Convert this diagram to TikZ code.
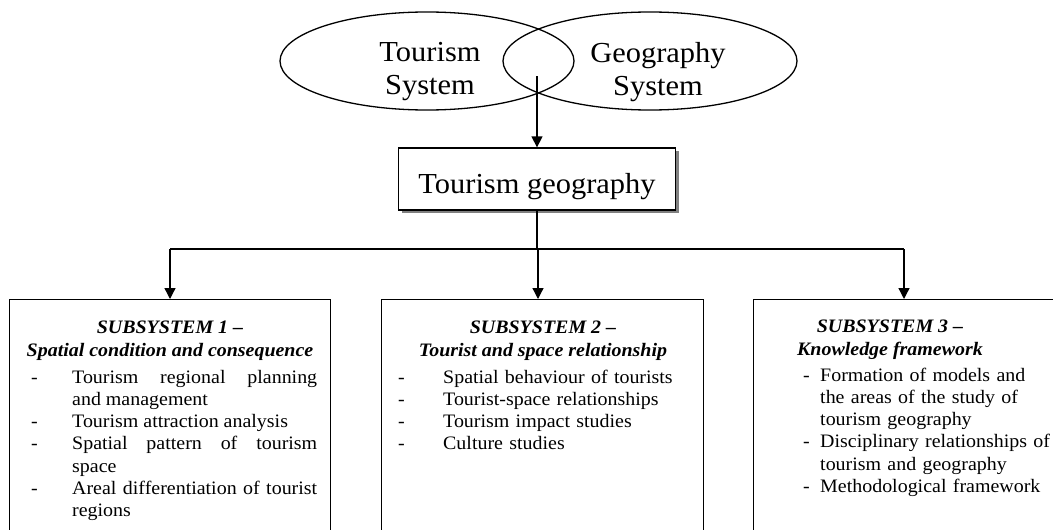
\documentclass[tikz,border=0pt]{standalone}
\usepackage{fontspec}
\setmainfont[FakeStretch=1.05]{Liberation Serif}
\usetikzlibrary{shapes.geometric,arrows.meta,shadows}

% one dashed list entry with a hanging indent
\newlength\dashgap
\newcommand\dashitem[1]{\noindent\hangindent=\dashgap\hangafter=1\makebox[\dashgap][l]{-}#1\par}

\begin{document}
\begin{tikzpicture}[x=1pt,y=-1pt,
  line/.style={line width=1.3pt},
  arrow/.style={line, -{Triangle[width=11pt,length=11pt]}},
  sysellipse/.style={ellipse, draw, line width=1.3pt, minimum width=294pt, minimum height=98pt, inner sep=0pt},
  bigtext/.style={font=\fontsize{29}{33}\selectfont, align=center, inner sep=0pt, anchor=north},
  mainbox/.style={draw, line width=1.3pt, fill=white, minimum width=277pt, minimum height=62pt,
    font=\fontsize{29}{33}\selectfont, text height=28pt, text depth=0pt, inner sep=0pt,
    drop shadow={shadow xshift=3pt, shadow yshift=-3pt, fill=black!50, opacity=1}},
  subbox/.style={draw, line width=1.3pt, rectangle, anchor=north west, inner sep=0pt, minimum height=260pt},
  subtitle/.style={font=\fontsize{19}{22.3}\selectfont\bfseries\itshape, align=center, inner sep=0pt, anchor=north},
  sublist/.style={font=\fontsize{19}{22.3}\selectfont, inner sep=0pt, anchor=base west}
]
\path[use as bounding box] (0,0) rectangle (1053,530);
\clip (0,0) rectangle (1053,530);

% the two overlapping systems
\node[sysellipse] (tsys) at (427,61) {};
\node[sysellipse] (gsys) at (650,61) {};
\node[bigtext] (tsyslabel) at (430,42) {Tourism\\System};
\node[bigtext] (gsyslabel) at (658,42) {Geography\\System};
\coordinate (overlap) at (537,76);

% central box
\node[mainbox] (tg) at (537,179) {Tourism geography};
\draw[arrow] (overlap) -- (overlap |- tg.north);

% distribution bar
\coordinate (bl) at (170,249);
\coordinate (bm) at (538,249);
\coordinate (br) at (904,249);
\draw[line] (tg.south) -- (tg.south |- bm);
\draw[line] (bl) -- (br);

% subsystem boxes (open at the lower edge)
\node[subbox, minimum width=321pt] (s1) at (9,299) {};
\node[subbox, minimum width=322pt] (s2) at (381,299) {};
\node[subbox, minimum width=330pt] (s3) at (753,299) {};
\draw[arrow] (bl) -- (bl |- s1.north);
\draw[arrow] (bm) -- (bm |- s2.north);
\draw[arrow] (br) -- (br |- s3.north);

% subsystem 1
\node[subtitle] (s1title) at (170,321) {SUBSYSTEM 1 --\\Spatial condition and consequence};
\node[sublist, text width=286pt, align=justify] (s1list) at (31,383) {\setlength\dashgap{41pt}%
  \dashitem{Tourism regional planning\linebreak and management}
  \dashitem{Tourism attraction analysis}
  \dashitem{Spatial pattern of tourism\linebreak space}
  \dashitem{Areal differentiation of tourist\linebreak regions}};

% subsystem 2
\node[subtitle] (s2title) at (543,321) {SUBSYSTEM 2 --\\Tourist and space relationship};
\node[sublist, text width=300pt, align=left] (s2list) at (398,383) {\setlength\dashgap{45pt}%
  \dashitem{Spatial behaviour of tourists}
  \dashitem{Tourist-space relationships}
  \dashitem{Tourism impact studies}
  \dashitem{Culture studies}};

% subsystem 3
\node[subtitle] (s3title) at (890,320) {SUBSYSTEM 3 --\\Knowledge framework};
\node[sublist, text width=280pt, align=left] (s3list) at (803,381) {\setlength\dashgap{17pt}%
  \dashitem{Formation of models and\newline the areas of the study of\newline tourism geography}
  \dashitem{Disciplinary relationships of\newline tourism and geography}
  \dashitem{Methodological framework}};
\end{tikzpicture}
\end{document}
